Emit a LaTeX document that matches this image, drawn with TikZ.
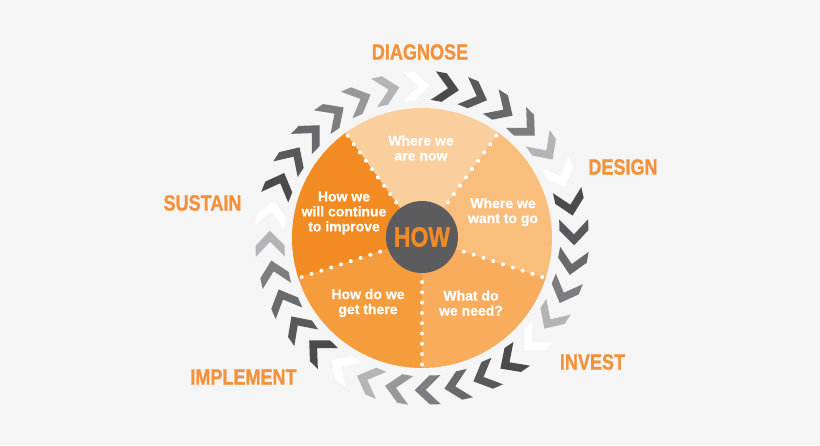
\documentclass[tikz,border=0pt]{standalone}
\usepackage{fontspec}
\setmainfont{Liberation Sans}
\newfontfamily\heavyfont[FakeBold=1.2]{Liberation Sans}
\newfontfamily\midfont[FakeBold=0.6]{Liberation Sans}
\definecolor{bg}{HTML}{F5F5F5}
\definecolor{lab}{HTML}{F3923B}
\definecolor{howc}{HTML}{F08C26}
\definecolor{hub}{HTML}{5C5C5E}
\definecolor{sA}{HTML}{FBCE9E}
\definecolor{sB}{HTML}{F9BD7C}
\definecolor{sC}{HTML}{F8AC5C}
\definecolor{sD}{HTML}{F59C3D}
\definecolor{sE}{HTML}{F18B22}
\definecolor{ga}{HTML}{4B4B4D}
\definecolor{gb}{HTML}{59595B}
\definecolor{gc}{HTML}{69696B}
\definecolor{gd}{HTML}{7D7D80}
\definecolor{ge}{HTML}{98989B}
\definecolor{gf}{HTML}{B4B4B7}
\definecolor{gw}{HTML}{FFFFFF}
\tikzset{
  steplabel/.style={text=lab,font=\heavyfont\bfseries\fontsize{22}{24}\selectfont,inner sep=0pt},
  sectortext/.style={text=white,font=\midfont\bfseries\fontsize{14}{15}\selectfont,align=center,inner sep=0pt},
  dotline/.style={white,line width=4pt,line cap=round,dash pattern=on 0pt off 10.3pt},
}
\newcommand{\cond}[1]{\scalebox{0.82}[1]{#1}}
\begin{document}
\begin{tikzpicture}[x=1pt,y=1pt]
\useasboundingbox (-422,-207) rectangle (398,238);
\fill[bg] (-422,-207) rectangle (398,238);
% chevrons
\foreach \i/\c in {0/ga,1/gb,2/gc,3/gd,4/ge,5/gf,6/gw,
                   7/ga,8/gb,9/gc,10/gd,11/gf,12/gw,
                   13/ga,14/gb,15/gc,16/gd,17/gf,18/gw,
                   19/ga,20/gb,21/gc,22/gd,23/ge,24/gf,25/gw,
                   26/ga,27/gb,28/gc,29/gd,30/gf,31/gw}{
  \pgfmathsetmacro\ang{158.5-11.25*\i}
  \fill[\c,shift={(\ang:152)},rotate=\ang-90]
    (-16,14.5) -- (-5,14.5) -- (10,0) -- (-5,-14.5) -- (-16,-14.5) -- (-1,0) -- cycle;
}
% sectors
\fill[sA] (0,0) -- (54:130) arc[start angle=54,end angle=126,radius=130] -- cycle;
\fill[sB] (0,0) -- (-18:130) arc[start angle=-18,end angle=54,radius=130] -- cycle;
\fill[sC] (0,0) -- (-90:130) arc[start angle=-90,end angle=-18,radius=130] -- cycle;
\fill[sD] (0,0) -- (198:130) arc[start angle=198,end angle=270,radius=130] -- cycle;
\fill[sE] (0,0) -- (126:130) arc[start angle=126,end angle=198,radius=130] -- cycle;
\foreach \a in {54,126,198,270,342}{
  \draw[dotline] (\a:44) -- (\a:128);
}
\node[circle,fill=hub,minimum size=72pt,inner sep=0pt] (hub) at (0,1) {};
\node[text=howc,font=\heavyfont\bfseries\fontsize{28}{30}\selectfont,inner sep=0pt] (how) at (0,1) {\cond{HOW}};
% sector texts
\node[sectortext] (t1) at (-1,90) {Where we\\are now};
\node[sectortext] (t2) at (81,26) {Where we\\want to go};
\node[sectortext] (t3) at (49,-65) {What do\\we need?};
\node[sectortext] (t4) at (-54,-65) {How do we\\get there};
\node[sectortext] (t5) at (-78,25) {How we\\will continue\\to improve};
% outer labels
\node[steplabel] (l1) at (-2,186) {\cond{DIAGNOSE}};
\node[steplabel] (l2) at (201,71) {\cond{DESIGN}};
\node[steplabel] (l3) at (170.5,-124) {\cond{INVEST}};
\node[steplabel] (l4) at (-178.5,-139) {\cond{IMPLEMENT}};
\node[steplabel] (l5) at (-219.5,35) {\cond{SUSTAIN}};
\end{tikzpicture}
\end{document}
